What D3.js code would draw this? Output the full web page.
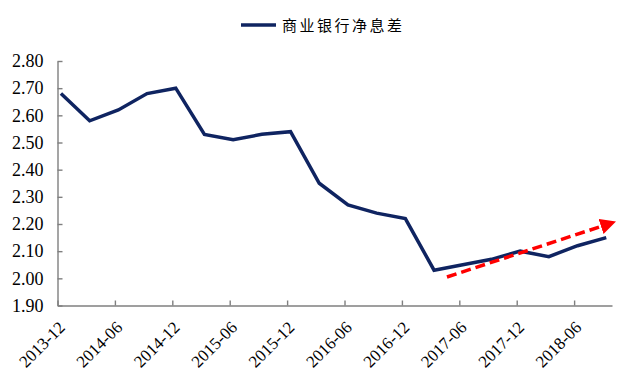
<!DOCTYPE html>
<html>
<head>
<meta charset="utf-8">
<script src="https://cdn.jsdelivr.net/npm/d3@7"></script>
<style>
  html, body { margin: 0; padding: 0; background: #fff; }
  svg { display: block; }
  .axis text { font-family: "Liberation Serif", "DejaVu Serif", serif; font-size: 18px; fill: #000; }
  .axis.x text { font-size: 17px; }
  .axis path, .axis line { stroke: #7f7f7f; stroke-width: 1.4; }
</style>
</head>
<body>
<div id="chart"></div>
<script>
// quarterly net interest margin of commercial banks (%)
var quarters = ['2013-12', '2014-03', '2014-06', '2014-09', '2014-12', '2015-03', '2015-06',
  '2015-09', '2015-12', '2016-03', '2016-06', '2016-09', '2016-12', '2017-03', '2017-06',
  '2017-09', '2017-12', '2018-03', '2018-06', '2018-09'];
var nim = [2.68, 2.58, 2.62, 2.68, 2.70, 2.53, 2.51, 2.53, 2.54, 2.35, 2.27, 2.24, 2.22,
  2.03, 2.05, 2.07, 2.10, 2.08, 2.12, 2.15];
var seriesName = '商业银行净息差';
var tickLabels = ['2013-12', '2014-06', '2014-12', '2015-06', '2015-12', '2016-06',
  '2016-12', '2017-06', '2017-12', '2018-06'];
var yTicks = [1.90, 2.00, 2.10, 2.20, 2.30, 2.40, 2.50, 2.60, 2.70, 2.80];
// trend arrow, in [quarter index, value]
var trendStart = [13.45, 2.005];
var trendEnd = [19.22, 2.205];

var width = 640, height = 384;
var tickShift = -0.12;

var svg = d3.select('#chart').append('svg')
  .attr('width', width)
  .attr('height', height);

var x = d3.scaleLinear()
  .domain([tickShift, 19.2])
  .range([57.5, 612]);

var y = d3.scaleLinear()
  .domain([1.9, 2.8])
  .range([305.5, 61]);

var xAxis = d3.axisBottom(x)
  .tickValues(tickLabels.map(function(t) { return quarters.indexOf(t) + tickShift; }))
  .tickFormat(function(d, i) { return tickLabels[i]; })
  .tickSize(-5)
  .tickSizeOuter(0);

var yAxis = d3.axisLeft(y)
  .tickValues(yTicks)
  .tickFormat(d3.format('.2f'))
  .tickSize(-5)
  .tickSizeOuter(0)
  .tickPadding(14);

svg.append('g')
  .attr('class', 'axis y')
  .attr('transform', 'translate(' + x.range()[0] + ',0)')
  .call(yAxis);

var gx = svg.append('g')
  .attr('class', 'axis x')
  .attr('transform', 'translate(0,' + y.range()[0] + ')')
  .call(xAxis);

// rotated labels, ending just right of each tick
gx.selectAll('text')
  .attr('text-anchor', 'end')
  .attr('dy', null)
  .attr('y', null)
  .attr('transform', 'translate(8,23) rotate(-45)');

var line = d3.line()
  .x(function(d, i) { return x(i); })
  .y(function(d) { return y(d); });

svg.append('path')
  .datum(nim)
  .attr('fill', 'none')
  .attr('stroke', '#0f2461')
  .attr('stroke-width', 3.5)
  .attr('stroke-linejoin', 'miter')
  .attr('d', line);

// red dashed trend arrow
svg.append('defs').append('marker')
  .attr('id', 'arrow')
  .attr('viewBox', '0 0 10 10')
  .attr('refX', 2)
  .attr('refY', 5)
  .attr('markerWidth', 4.5)
  .attr('markerHeight', 4.5)
  .attr('orient', 'auto')
  .append('path')
  .attr('d', 'M0,0 L10,5 L0,10 Z')
  .attr('fill', '#ff0000');

var ax1 = x(trendStart[0]), ay1 = y(trendStart[1]);
var ax2 = x(trendEnd[0]), ay2 = y(trendEnd[1]);
var ang = Math.atan2(ay2 - ay1, ax2 - ax1);
var back = 9;
svg.append('line')
  .attr('x1', ax1).attr('y1', ay1)
  .attr('x2', ax2 - back * Math.cos(ang)).attr('y2', ay2 - back * Math.sin(ang))
  .attr('stroke', '#ff0000')
  .attr('stroke-width', 3.5)
  .attr('stroke-dasharray', '10,5')
  .attr('marker-end', 'url(#arrow)');

// legend
var legend = svg.append('g').attr('transform', 'translate(241,25)');
legend.append('line')
  .attr('x1', 0).attr('x2', 35)
  .attr('stroke', '#0f2461')
  .attr('stroke-width', 3.5);
legend.append('text')
  .attr('x', 41)
  .attr('y', 6)
  .attr('font-family', '"Noto Sans CJK SC", sans-serif')
  .attr('font-size', 15)
  .attr('letter-spacing', 2.5)
  .attr('fill', '#000')
  .text(seriesName);
</script>
</body>
</html>
